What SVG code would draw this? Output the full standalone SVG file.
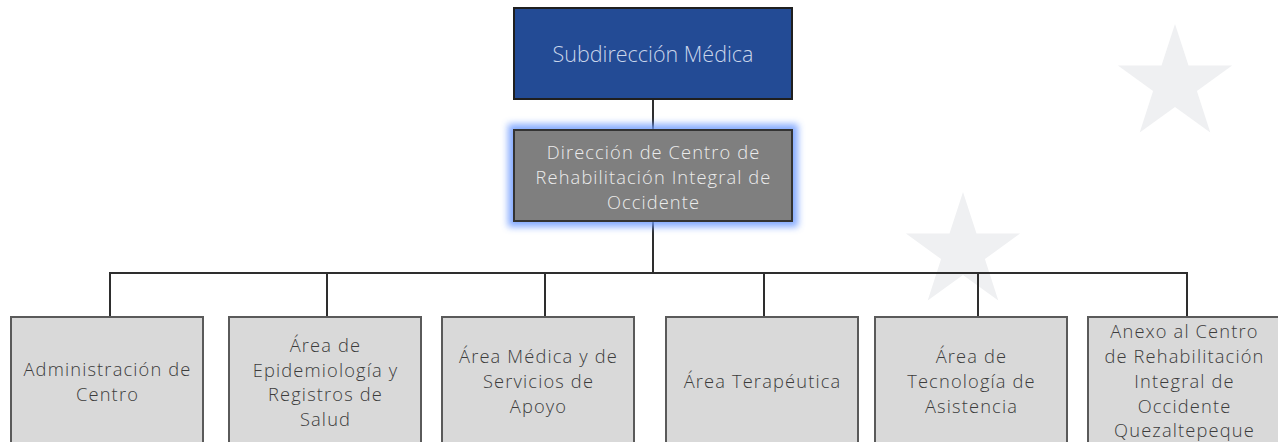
<svg xmlns="http://www.w3.org/2000/svg" xmlns:xlink="http://www.w3.org/1999/xlink" width="1278" height="442" viewBox="0 0 1278 442">
<style>
.t{font-family:"Open Sans",Lato,"Liberation Sans",sans-serif;font-weight:300;text-anchor:middle}
.child rect{fill:#d9d9d9;stroke:#5a5a5a;stroke-width:2}
.child text{fill:#3c3c3c;font-size:18.3px;letter-spacing:1.15px}
.conn path{fill:none;stroke:#2e2e2e;stroke-width:2}
</style>
<defs>
<path id="star" d="M0,-60 L13.5,-18.6 L57.1,-18.5 L21.9,7.1 L35.3,48.5 L0,23 L-35.3,48.5 L-21.9,7.1 L-57.1,-18.5 L-13.5,-18.6 Z" fill="#eff0f2"/>
<filter id="glow" x="-20%" y="-30%" width="140%" height="160%"><feGaussianBlur stdDeviation="3.5"/></filter>
</defs>
<rect width="1278" height="442" fill="#ffffff"/>
<g id="stars">
<use xlink:href="#star" x="1175" y="84"/>
<use xlink:href="#star" x="963" y="252"/>
</g>
<g class="conn" id="connectors">
<path d="M653,99 V130"/>
<path d="M653,221 V273"/>
<path d="M110,317 V273 H1187 V317"/>
<path d="M327,273 V317"/>
<path d="M545,273 V317"/>
<path d="M764,273 V317"/>
<path d="M978,273 V317"/>
</g>
<g id="n-subdireccion">
<rect x="514" y="8" width="278" height="91" fill="#234b95" stroke="#1f1f1f" stroke-width="2"/>
<text class="t" x="653" y="62" font-size="21.5" fill="#c9d5ea">Subdirección Médica</text>
</g>
<g id="n-direccion">
<rect x="508" y="124" width="290" height="103" fill="#6f9cff" opacity="0.85" filter="url(#glow)"/>
<rect x="514" y="130" width="278" height="91" fill="#7f7f7f" stroke="#333333" stroke-width="2"/>
<text class="t" font-size="18.3" letter-spacing="1.1" fill="#ececec"><tspan x="653.5" y="159">Dirección de Centro de</tspan><tspan x="653.5" y="184">Rehabilitación Integral de</tspan><tspan x="653.5" y="209">Occidente</tspan></text>
</g>
<g class="child" id="n-administracion">
<rect x="11" y="317" width="192" height="140"/>
<text class="t"><tspan x="107.5" y="376">Administración de</tspan><tspan x="107.5" y="401">Centro</tspan></text>
</g>
<g class="child" id="n-epidemiologia">
<rect x="229" y="317" width="192" height="140"/>
<text class="t"><tspan x="325.5" y="352">Área de</tspan><tspan x="325.5" y="377">Epidemiología y</tspan><tspan x="325.5" y="401">Registros de</tspan><tspan x="325.5" y="426">Salud</tspan></text>
</g>
<g class="child" id="n-medica">
<rect x="442" y="317" width="192" height="140"/>
<text class="t"><tspan x="538.5" y="363">Área Médica y de</tspan><tspan x="538.5" y="388">Servicios de</tspan><tspan x="538.5" y="413">Apoyo</tspan></text>
</g>
<g class="child" id="n-terapeutica">
<rect x="666" y="317" width="192" height="140"/>
<text class="t" x="762.5" y="388">Área Terapéutica</text>
</g>
<g class="child" id="n-tecnologia">
<rect x="875" y="317" width="192" height="140"/>
<text class="t"><tspan x="971.5" y="363">Área de</tspan><tspan x="971.5" y="388">Tecnología de</tspan><tspan x="971.5" y="413">Asistencia</tspan></text>
</g>
<g class="child" id="n-anexo">
<rect x="1088" y="317" width="192" height="140"/>
<text class="t"><tspan x="1184.5" y="338">Anexo al Centro</tspan><tspan x="1184.5" y="363">de Rehabilitación</tspan><tspan x="1184.5" y="388">Integral de</tspan><tspan x="1184.5" y="413">Occidente</tspan><tspan x="1184.5" y="437">Quezaltepeque</tspan></text>
</g>
</svg>
